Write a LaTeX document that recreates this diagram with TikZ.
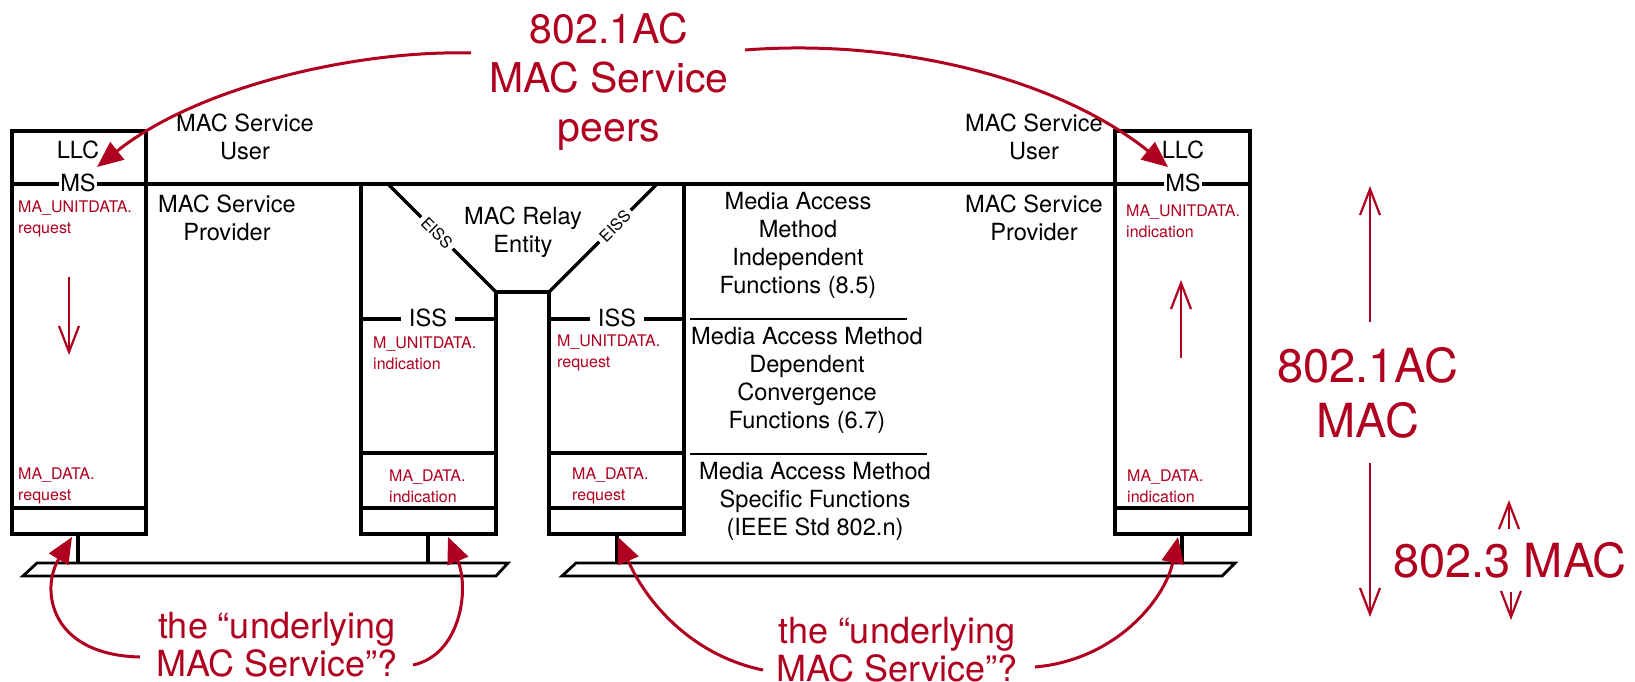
\documentclass[tikz,border=0pt]{standalone}
\usepackage{fontspec}
\setmainfont{TeX Gyre Heros}
\usetikzlibrary{arrows.meta}
\definecolor{ieeered}{RGB}{176,0,32}
\begin{document}
\begin{tikzpicture}[x=1pt,y=-1pt,
  frame/.style={draw=black,line width=3.2pt,line join=miter},
  thin/.style={draw=black,line width=2.8pt},
  blk/.style={font=\fontsize{23.6}{28}\selectfont,align=center,inner sep=0pt},
  lbl/.style={text=ieeered,font=\fontsize{16}{21}\selectfont,align=left,anchor=west,inner sep=0pt},
  iface/.style={font=\fontsize{23.6}{28}\selectfont,fill=white,inner ysep=1pt,inner xsep=1pt},
  issbox/.style={font=\fontsize{23.6}{28}\selectfont,fill=white,inner ysep=1pt,inner xsep=8pt},
  eiss/.style={font=\fontsize{16}{18}\selectfont,fill=white,inner xsep=4pt,inner ysep=1pt},
  bigtxt/.style={text=ieeered,font=\fontsize{41}{49}\selectfont,align=center,inner sep=0pt},
  hugetxt/.style={text=ieeered,font=\fontsize{47}{55}\selectfont,align=center,inner sep=0pt},
  undtxt/.style={text=ieeered,font=\fontsize{36}{38}\selectfont,align=center,inner sep=0pt},
  peer/.style={draw=ieeered,line width=3pt,-{Triangle[length=26pt,width=22pt]}},
  flow/.style={draw=ieeered,line width=2.2pt,-{Straight Barb[length=26pt,width=20pt]}}]
\useasboundingbox (0,0) rectangle (1635,682);

% ---- left end station ----
\draw[frame] (12,131) rectangle (146,534);
\draw[frame] (12,508) -- (146,508);
% ---- right end station ----
\draw[frame] (1115,131) rectangle (1250,534);
\draw[frame] (1115,508) -- (1250,508);
% ---- top service line ----
\draw[frame] (12,184) -- (1250,184);
% ---- relay ----
\draw[frame] (361,184) -- (361,534) -- (496,534) -- (496,292) -- (549,292) -- (549,534) -- (684,534) -- (684,184);
\draw[frame] (388,184) -- (496,292);
\draw[frame] (549,292) -- (657,184);
\draw[frame] (361,453) -- (496,453);
\draw[frame] (361,508) -- (496,508);
\draw[frame] (549,453) -- (684,453);
\draw[frame] (549,508) -- (684,508);
\draw[frame] (361,319) -- (496,319);
\draw[frame] (549,319) -- (684,319);
% separators
\draw[thin] (690,319) -- (907,319);
\draw[thin] (690,454) -- (927,454);
% stubs and buses
\draw[frame] (78,534) -- (78,563);
\draw[frame] (428,534) -- (428,563);
\draw[frame] (617,534) -- (617,563);
\draw[frame] (1182,534) -- (1182,563);
\draw[thin,line join=miter] (37,563) -- (508,563) -- (496,576) -- (23,576) -- cycle;
\draw[thin,line join=miter] (576,563) -- (1235,563) -- (1222,576) -- (562,576) -- cycle;

% ---- black labels ----
\node[blk] (llcL) at (78,150) {LLC};
\node[blk] (llcR) at (1183,150) {LLC};
\node[iface] (msL) at (78,183) {MS};
\node[iface] (msR) at (1183,183) {MS};
\node[issbox] (issL) at (428,318) {ISS};
\node[issbox] (issR) at (617,318) {ISS};
\node[eiss,rotate=-45] (eissL) at (437,233) {EISS};
\node[eiss,rotate=45] (eissR) at (615,226) {EISS};
\node[blk] (msuL) at (245,137) {MAC Service\\User};
\node[blk] (msuR) at (1034,137) {MAC Service\\User};
\node[blk] (mspL) at (227,218) {MAC Service\\Provider};
\node[blk] (mspR) at (1034,218) {MAC Service\\Provider};
\node[blk] (relay) at (523,232) {MAC Relay\\Entity};
\node[blk] (indep) at (798,245) {Media Access\\Method\\Independent\\Functions (8.5)};
\node[blk] (dep) at (807,380) {Media Access Method\\Dependent\\Convergence\\Functions (6.7)};
\node[blk] (spec) at (815,501) {Media Access Method\\Specific Functions\\(IEEE Std 802.n)};

% ---- red primitive labels ----
\node[lbl] (p1) at (18,219) {MA\_UNITDATA.\\request};
\node[lbl] (p2) at (18,486) {MA\_DATA.\\request};
\node[lbl] (p3) at (373,353) {M\_UNITDATA.\\indication};
\node[lbl] (p4) at (389,486) {MA\_DATA.\\indication};
\node[lbl] (p5) at (557,353) {M\_UNITDATA.\\request};
\node[lbl] (p6) at (572,486) {MA\_DATA.\\request};
\node[lbl] (p7) at (1126,221) {MA\_UNITDATA.\\indication};
\node[lbl] (p8) at (1127,486) {MA\_DATA.\\indication};

% ---- big red annotations ----
\node[bigtxt] (peers) at (609,82) {802.1AC\\MAC Service\\peers};
\node[hugetxt] (acmac) at (1368,393) {802.1AC\\MAC};
\node[hugetxt] (mac3) at (1510,560) {802.3 MAC};
\node[undtxt] (undL) at (277,645) {the “underlying\\MAC Service”?};
\node[undtxt] (undR) at (897,650) {the “underlying\\MAC Service”?};

% ---- red curved arrows ----
\coordinate (a1s) at (471,53);  \coordinate (a1e) at (97,167);
\coordinate (a2s) at (745,50);  \coordinate (a2e) at (1168,167);
\coordinate (b1s) at (140,657); \coordinate (b1e) at (72,537);
\coordinate (b2s) at (413,665); \coordinate (b2e) at (448,537);
\coordinate (b3s) at (763,670); \coordinate (b3e) at (618,537);
\coordinate (b4s) at (1035,667);\coordinate (b4e) at (1178,537);
\draw[peer] (a1s) .. controls (360,50) and (200,85) .. (a1e);
\draw[peer] (a2s) .. controls (900,38) and (1060,80) .. (a2e);
\draw[peer] (b1s) .. controls (50,655) and (40,590) .. (b1e);
\draw[peer] (b2s) .. controls (460,655) and (470,590) .. (b2e);
\draw[peer] (b3s) .. controls (690,655) and (645,600) .. (b3e);
\draw[peer] (b4s) .. controls (1115,660) and (1165,600) .. (b4e);

% ---- red straight arrows ----
\coordinate (f1s) at (69,277);   \coordinate (f1e) at (69,355);
\coordinate (f2s) at (1181,358); \coordinate (f2e) at (1181,280);
\coordinate (f3s) at (1370,322); \coordinate (f3e) at (1370,186);
\coordinate (f4s) at (1370,463); \coordinate (f4e) at (1370,617);
\coordinate (f5s) at (1509,529); \coordinate (f5e) at (1509,500);
\coordinate (f6s) at (1511,592); \coordinate (f6e) at (1511,620);
\draw[flow] (f1s) -- (f1e);
\draw[flow] (f2s) -- (f2e);
\draw[flow] (f3s) -- (f3e);
\draw[flow] (f4s) -- (f4e);
\draw[flow] (f5s) -- (f5e);
\draw[flow] (f6s) -- (f6e);
\end{tikzpicture}
\end{document}
